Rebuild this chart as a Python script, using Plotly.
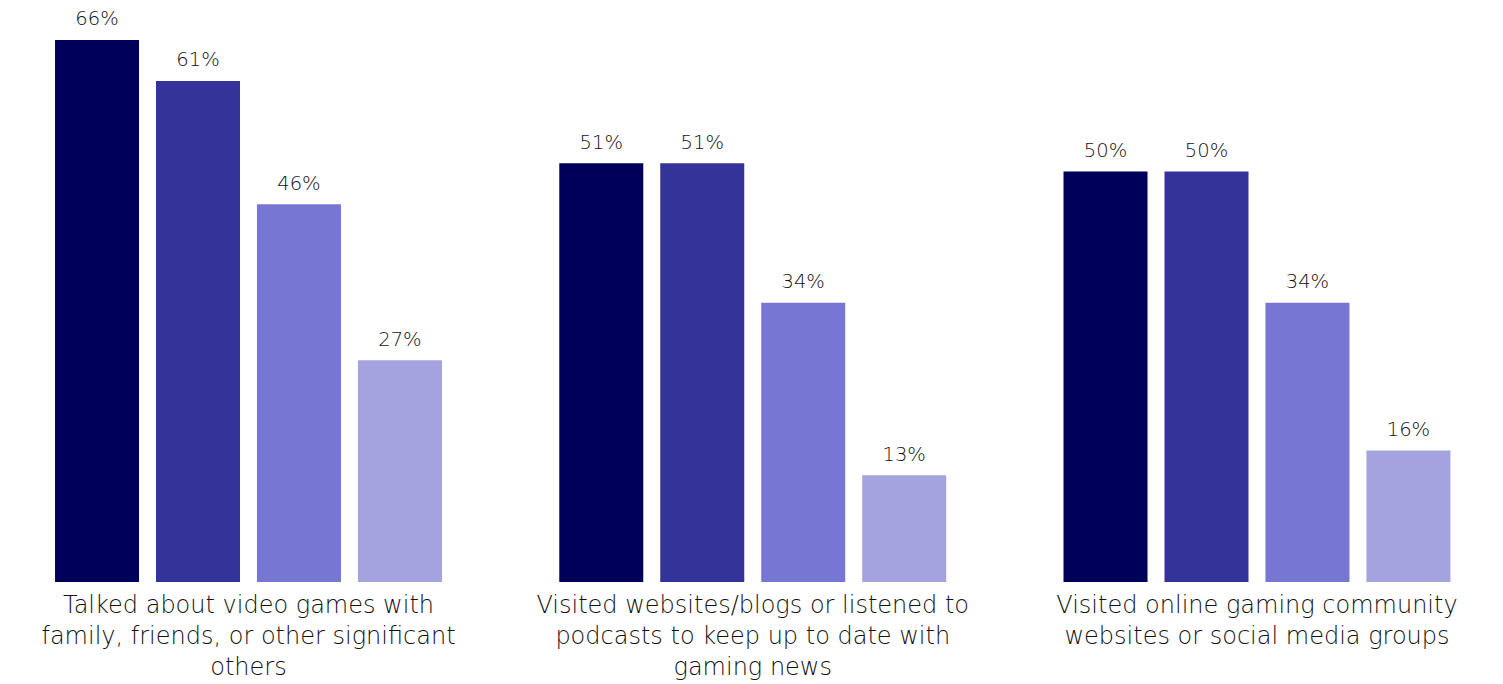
import plotly.graph_objects as go

# Survey activities (x-axis categories)
categories = [
    "Talked about video games with<br>family, friends, or other significant<br>others",
    "Visited websites/blogs or listened to<br>podcasts to keep up to date with<br>gaming news",
    "Visited online gaming community<br>websites or social media groups",
]

# Share of respondents per group (%), four groups per activity
group_1 = [66, 51, 50]
group_2 = [61, 51, 50]
group_3 = [46, 34, 34]
group_4 = [27, 13, 16]

series = [group_1, group_2, group_3, group_4]
colors = ["#00005a", "#333399", "#7777d3", "#a3a3e0"]

FONT = "DejaVu Sans"
TEXT_COLOR = "#111111"

fig = go.Figure()
for i, (vals, col) in enumerate(zip(series, colors)):
    grp = f"g{i}"
    fig.add_trace(go.Bar(
        x=categories,
        y=vals,
        offsetgroup=grp,
        marker=dict(color=col, line=dict(width=0)),
        showlegend=False,
        hoverinfo="skip",
    ))
    # value labels, placed above each bar in the same offset group
    fig.add_trace(go.Scatter(
        x=categories,
        y=vals,
        offsetgroup=grp,
        mode="markers+text",
        marker=dict(size=14, color="rgba(0,0,0,0)"),
        text=[f"{v}%" for v in vals],
        textposition="top center",
        textfont=dict(family=FONT, size=19.5, color=TEXT_COLOR, weight=300),
        cliponaxis=False,
        showlegend=False,
        hoverinfo="skip",
    ))

fig.update_layout(
    width=1503,
    height=684,
    margin=dict(l=0, r=0, t=0, b=102),
    paper_bgcolor="white",
    plot_bgcolor="white",
    barmode="group",
    scattermode="group",
    bargap=0.199,
    scattergap=0.199,
    bargroupgap=0.168,
    font=dict(family=FONT, color=TEXT_COLOR),
)
fig.update_xaxes(
    range=[-0.4928, 2.4879],
    showgrid=False,
    showline=False,
    zeroline=False,
    ticks="",
    ticklabelstandoff=6,
    tickfont=dict(family=FONT, size=24, color=TEXT_COLOR, weight=300),
    automargin=False,
)
fig.update_yaxes(
    range=[0, 70.87],
    visible=False,
    showgrid=False,
    zeroline=False,
)

fig.write_html("out.html")
